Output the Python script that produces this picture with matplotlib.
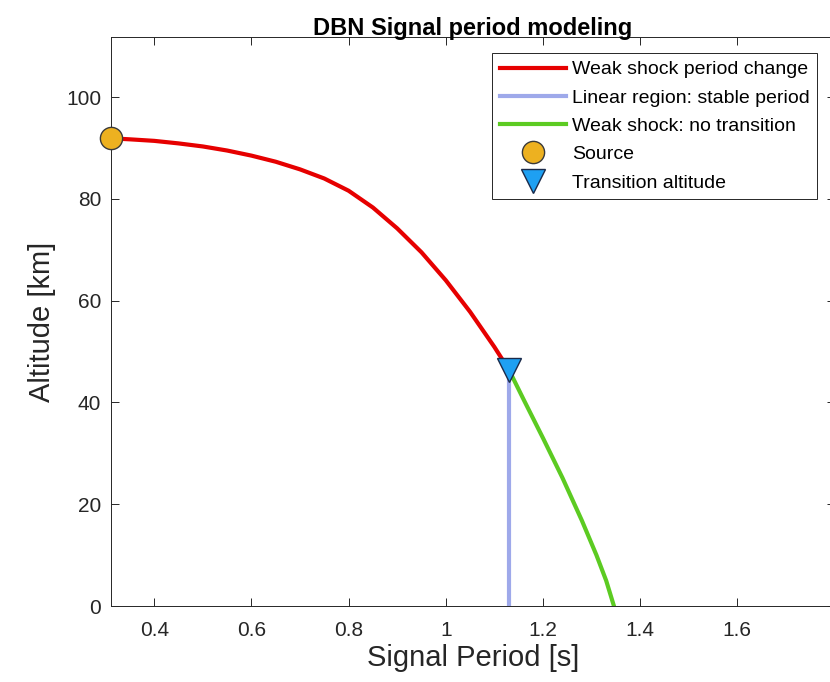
import matplotlib
matplotlib.use("Agg")
import matplotlib.pyplot as plt

plt.rcParams['font.family'] = ['Liberation Sans', 'DejaVu Sans']

# red: weak shock period change (source -> transition)
shock_period = [0.311, 0.35, 0.40, 0.45, 0.50, 0.55, 0.60, 0.65, 0.70, 0.75, 0.80,
                0.85, 0.90, 0.95, 1.00, 1.05, 1.10, 1.13]
shock_alt = [91.9, 91.7, 91.4, 90.9, 90.3, 89.5, 88.5, 87.3, 85.8, 84.0, 81.6,
             78.3, 74.2, 69.5, 64.0, 57.8, 50.9, 46.4]

# green: weak shock, no transition
noTrans_period = [1.13, 1.16, 1.20, 1.24, 1.28, 1.31, 1.33, 1.346]
noTrans_alt = [46.4, 40.6, 33.0, 25.2, 16.8, 10.0, 5.0, 0.0]

# blue: linear region, period stays put
lin_period = [1.13, 1.13]
lin_alt = [46.4, 0.0]

source = (0.311, 91.9)
transition = (1.13, 46.4)

fig = plt.figure(figsize=(8.3, 6.82), dpi=100)
ax = fig.add_axes([0.1337, 0.1114, 0.8718, 0.8343])

ax.plot(shock_period, shock_alt, color='#e60000', lw=3, label='Weak shock period change', zorder=3)
ax.plot(lin_period, lin_alt, color='#9ea9ea', lw=3, label='Linear region: stable period', zorder=3)
ax.plot(noTrans_period, noTrans_alt, color='#5ccb22', lw=3, label='Weak shock: no transition', zorder=3)
ax.plot(*source, 'o', ms=16, mfc='#edb120', mec='#3a3a3a', mew=1, ls='none', label='Source', zorder=4, clip_on=False)
ax.plot(*transition, 'v', ms=17, mfc='#1ea0f2', mec='#1a2a4a', mew=1, ls='none', label='Transition altitude', zorder=4)

ax.set_xlim(0.311, 1.8)
ax.set_ylim(0, 111.8)
ax.set_xticks([0.4, 0.6, 0.8, 1, 1.2, 1.4, 1.6])
ax.set_xticklabels(['0.4', '0.6', '0.8', '1', '1.2', '1.4', '1.6'])
ax.set_yticks([0, 20, 40, 60, 80, 100])
ax.tick_params(direction='in', top=True, right=True, length=6, width=0.7,
               labelsize=15, colors='#262626')
ax.tick_params(axis='x', pad=11)
ax.tick_params(axis='y', pad=7)
for s in ax.spines.values():
    s.set_color('#262626')
    s.set_linewidth(0.7)

ax.set_xlabel('Signal Period [s]', fontsize=21, color='#262626', labelpad=3)
ax.set_ylabel('Altitude [km]', fontsize=21, color='#262626', labelpad=7)
ax.set_title('DBN Signal period modeling', fontsize=17, fontweight='bold', pad=1.5)

leg = ax.legend(loc='upper right', bbox_to_anchor=(0.976, 0.972), fontsize=14,
                handlelength=3.4, handletextpad=0.3, labelspacing=0.55,
                borderpad=0.4, fancybox=False, framealpha=1, borderaxespad=0)
leg.get_frame().set_edgecolor('#262626')
leg.get_frame().set_linewidth(0.7)

fig.savefig('out.png', dpi=100)
